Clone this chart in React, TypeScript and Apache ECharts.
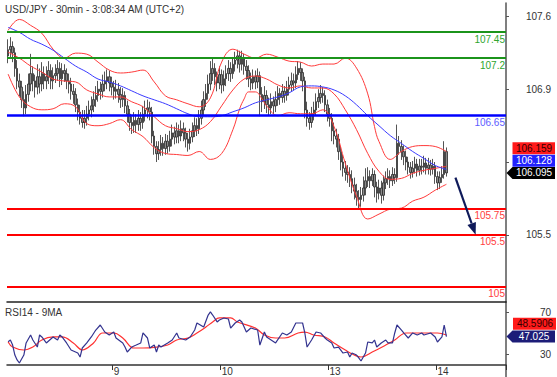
import React, { useEffect, useRef } from "react";
import * as echarts from "echarts";

const FONT = "'Liberation Sans', Arial, sans-serif";
const TITLE = "USD/JPY - 30min - 3:08:34 AM (UTC+2)";
const RSI_TITLE = "RSI14 - 9MA";
const SLOT_COUNT = 222;
const dayTickIdx = [47, 95, 143, 191];
const dayTickLabels = ["9", "10", "13", "14"];
const priceTickValues = [105.5, 106.2, 106.9, 107.6];
const priceLabelValues = [105.5, 106.9, 107.6];
const rsiTickValues = [30, 70];

const levelValues = [107.45, 107.2, 106.65, 105.75, 105.5, 105];
const levelLabels = ["107.45", "107.2", "106.65", "105.75", "105.5", "105"];
const levelColors = ["#1b941b", "#1b941b", "#0000ff", "#ff0000", "#ff0000", "#ff0000"];
const levelLabelColors = ["#2ea52e", "#2ea52e", "#5c5cff", "#ff4040", "#ff4040", "#ff4040"];

// [open, close, low, high]
const ohlc: number[][] = [
  [107.22, 107.28, 107.15, 107.38], [107.28, 107.31, 107.20, 107.40], [107.31, 107.25, 107.16, 107.36],
  [107.25, 107.10, 107.02, 107.30], [107.10, 106.98, 106.90, 107.18], [106.98, 106.92, 106.83, 107.05],
  [106.92, 106.80, 106.72, 106.98], [106.80, 106.72, 106.64, 106.88], [106.72, 106.85, 106.66, 106.94],
  [106.85, 106.95, 106.78, 107.05], [106.95, 107.05, 106.88, 107.24], [107.05, 106.98, 106.88, 107.12],
  [106.98, 106.92, 106.82, 107.04], [106.92, 107.02, 106.85, 107.14], [107.02, 106.95, 106.86, 107.10],
  [106.95, 107.05, 106.88, 107.16], [107.05, 106.98, 106.90, 107.12], [106.98, 107.02, 106.90, 107.12],
  [107.02, 107.08, 106.95, 107.17], [107.08, 106.98, 106.90, 107.14], [106.98, 107.03, 106.90, 107.11],
  [107.03, 107.05, 106.96, 107.14], [107.05, 107.10, 106.98, 107.18], [107.10, 107.00, 106.92, 107.16],
  [107.00, 107.08, 106.94, 107.15], [107.08, 107.05, 106.97, 107.14], [107.05, 106.98, 106.90, 107.10],
  [106.98, 106.95, 106.86, 107.05], [106.95, 106.88, 106.80, 107.01], [106.88, 106.85, 106.76, 106.95],
  [106.85, 106.75, 106.68, 106.91], [106.75, 106.68, 106.60, 106.81], [106.68, 106.62, 106.56, 106.75],
  [106.62, 106.58, 106.53, 106.70], [106.58, 106.62, 106.52, 106.70], [106.62, 106.66, 106.55, 106.74],
  [106.66, 106.70, 106.60, 106.79], [106.70, 106.74, 106.63, 106.83], [106.74, 106.80, 106.68, 106.88],
  [106.80, 106.84, 106.73, 106.93], [106.84, 106.90, 106.78, 106.98], [106.90, 106.88, 106.80, 106.97],
  [106.88, 106.95, 106.82, 107.04], [106.95, 106.98, 106.88, 107.07], [106.98, 107.02, 106.90, 107.09],
  [107.02, 106.96, 106.88, 107.08], [106.96, 106.92, 106.84, 107.02], [106.92, 106.88, 106.80, 106.98],
  [106.88, 106.90, 106.81, 106.99], [106.90, 106.85, 106.77, 106.96], [106.85, 106.80, 106.72, 106.92],
  [106.80, 106.84, 106.73, 106.91], [106.84, 106.74, 106.67, 106.88], [106.74, 106.66, 106.58, 106.79],
  [106.66, 106.58, 106.50, 106.71], [106.58, 106.55, 106.47, 106.64], [106.55, 106.60, 106.48, 106.68],
  [106.60, 106.56, 106.48, 106.66], [106.56, 106.62, 106.50, 106.70], [106.62, 106.58, 106.50, 106.68],
  [106.58, 106.66, 106.52, 106.74], [106.66, 106.70, 106.59, 106.79], [106.70, 106.72, 106.62, 106.80],
  [106.72, 106.68, 106.60, 106.78], [106.68, 106.45, 106.38, 106.73], [106.45, 106.35, 106.27, 106.50],
  [106.35, 106.28, 106.20, 106.40], [106.28, 106.32, 106.22, 106.40], [106.32, 106.38, 106.26, 106.46],
  [106.38, 106.33, 106.26, 106.44], [106.33, 106.40, 106.27, 106.47], [106.40, 106.35, 106.28, 106.46],
  [106.35, 106.42, 106.30, 106.50], [106.42, 106.48, 106.35, 106.56], [106.48, 106.44, 106.37, 106.54],
  [106.44, 106.50, 106.38, 106.58], [106.50, 106.45, 106.38, 106.56], [106.45, 106.52, 106.40, 106.60],
  [106.52, 106.48, 106.40, 106.58], [106.48, 106.42, 106.34, 106.53], [106.42, 106.38, 106.30, 106.48],
  [106.38, 106.44, 106.32, 106.52], [106.44, 106.50, 106.39, 106.58], [106.50, 106.55, 106.44, 106.63],
  [106.55, 106.52, 106.45, 106.62], [106.52, 106.62, 106.47, 106.70], [106.62, 106.70, 106.56, 106.79],
  [106.70, 106.80, 106.64, 106.88], [106.80, 106.86, 106.73, 106.95], [106.86, 106.95, 106.80, 107.04],
  [106.95, 107.05, 106.89, 107.17], [107.05, 107.10, 106.98, 107.20], [107.10, 107.02, 106.94, 107.15],
  [107.02, 106.96, 106.88, 107.07], [106.96, 107.04, 106.90, 107.12], [107.04, 106.94, 106.86, 107.09],
  [106.94, 107.00, 106.88, 107.08], [107.00, 107.05, 106.93, 107.13], [107.05, 107.10, 106.98, 107.18],
  [107.10, 107.05, 106.97, 107.16], [107.05, 107.14, 107.00, 107.21], [107.14, 107.18, 107.07, 107.26],
  [107.18, 107.22, 107.10, 107.28], [107.22, 107.14, 107.06, 107.27], [107.14, 107.20, 107.08, 107.27],
  [107.20, 107.12, 107.04, 107.24], [107.12, 107.08, 106.99, 107.18], [107.08, 107.00, 106.92, 107.13],
  [107.00, 106.96, 106.89, 107.06], [106.96, 107.02, 106.90, 107.09], [107.02, 106.97, 106.90, 107.08],
  [106.97, 107.03, 106.91, 107.10], [107.03, 106.85, 106.64, 107.07], [106.85, 106.78, 106.68, 106.92],
  [106.78, 106.84, 106.71, 106.93], [106.84, 106.75, 106.67, 106.89], [106.75, 106.72, 106.65, 106.82],
  [106.72, 106.78, 106.66, 106.86], [106.78, 106.74, 106.66, 106.83], [106.74, 106.80, 106.68, 106.88],
  [106.80, 106.86, 106.74, 106.93], [106.86, 106.82, 106.75, 106.91], [106.82, 106.88, 106.77, 106.95],
  [106.88, 106.84, 106.77, 106.93], [106.84, 106.90, 106.79, 106.98], [106.90, 106.94, 106.84, 107.02],
  [106.94, 106.98, 106.88, 107.06], [106.98, 106.96, 106.89, 107.05], [106.96, 107.04, 106.91, 107.12],
  [107.04, 107.10, 106.99, 107.17], [107.10, 107.06, 106.98, 107.16], [107.06, 106.98, 106.88, 107.10],
  [106.98, 106.70, 106.62, 107.02], [106.70, 106.62, 106.54, 106.78], [106.62, 106.58, 106.51, 106.68],
  [106.58, 106.66, 106.53, 106.73], [106.66, 106.70, 106.60, 106.78], [106.70, 106.78, 106.65, 106.86],
  [106.78, 106.82, 106.72, 106.90], [106.82, 106.86, 106.76, 106.94], [106.86, 106.84, 106.77, 106.92],
  [106.84, 106.75, 106.68, 106.89], [106.75, 106.66, 106.59, 106.80], [106.66, 106.62, 106.54, 106.72],
  [106.62, 106.50, 106.40, 106.67], [106.50, 106.45, 106.37, 106.58], [106.45, 106.42, 106.34, 106.52],
  [106.42, 106.30, 106.22, 106.47], [106.30, 106.20, 106.12, 106.35], [106.20, 106.14, 106.06, 106.27],
  [106.14, 106.10, 106.02, 106.21], [106.10, 106.08, 106.00, 106.17], [106.08, 106.04, 105.96, 106.15],
  [106.04, 105.98, 105.90, 106.12], [105.98, 105.92, 105.84, 106.05], [105.92, 105.86, 105.78, 105.99],
  [105.86, 105.84, 105.75, 105.93], [105.84, 105.88, 105.77, 105.96], [105.88, 105.95, 105.82, 106.06],
  [105.95, 106.02, 105.88, 106.14], [106.02, 106.06, 105.96, 106.15], [106.06, 106.02, 105.95, 106.12],
  [106.02, 106.08, 105.97, 106.14], [106.08, 105.96, 105.86, 106.12], [105.96, 105.90, 105.81, 106.01],
  [105.90, 105.95, 105.84, 106.03], [105.95, 105.88, 105.80, 106.02], [105.88, 106.00, 105.83, 106.07],
  [106.00, 106.04, 105.94, 106.11], [106.04, 106.06, 105.98, 106.14], [106.06, 106.02, 105.95, 106.12],
  [106.02, 106.08, 105.97, 106.15], [106.08, 106.05, 105.99, 106.14], [106.05, 106.38, 106.01, 106.56],
  [106.38, 106.35, 106.27, 106.45], [106.35, 106.30, 106.22, 106.41], [106.30, 106.25, 106.17, 106.36],
  [106.25, 106.20, 106.12, 106.31], [106.20, 106.15, 106.08, 106.25], [106.15, 106.10, 106.04, 106.20],
  [106.10, 106.14, 106.05, 106.21], [106.14, 106.18, 106.09, 106.25], [106.18, 106.12, 106.06, 106.23],
  [106.12, 106.16, 106.07, 106.23], [106.16, 106.15, 106.08, 106.23], [106.15, 106.19, 106.10, 106.26],
  [106.19, 106.14, 106.08, 106.24], [106.14, 106.17, 106.08, 106.24], [106.17, 106.13, 106.07, 106.22],
  [106.13, 106.16, 106.08, 106.23], [106.16, 106.06, 105.99, 106.20], [106.06, 106.00, 105.93, 106.11],
  [106.00, 106.05, 105.94, 106.11], [106.05, 106.08, 106.00, 106.16], [106.08, 106.30, 106.04, 106.40],
  [106.30, 106.095, 106.06, 106.34],
];

const step5Idx = [0, 5, 10, 15, 20, 25, 30, 35, 40, 45, 50, 55, 60, 65, 70, 75, 80, 85, 90, 95,
  100, 105, 110, 115, 120, 125, 130, 135, 140, 145, 150, 155, 160, 165, 170, 175, 180, 185, 190, 195];

const upperIdx = [0, 5, 10, 15, 20, 25, 30, 35, 40, 45, 50, 55, 60, 65, 70, 75, 80, 85, 90, 95,
  100, 105, 110, 115, 120, 125, 130, 135, 140, 145, 150, 155, 160, 163, 165, 170, 175, 180, 185, 190, 195];
const upperVal = [107.466, 107.571, 107.514, 107.438, 107.285, 107.199, 107.247, 107.237, 107.161, 107.084,
  107.056, 107.065, 107.084, 106.970, 106.836, 106.798, 106.760, 106.731, 106.817, 107.161,
  107.285, 107.237, 107.199, 107.237, 107.208, 107.170, 107.161, 107.123, 107.142, 107.142,
  107.199, 107.103, 106.855, 106.540, 106.397, 106.225, 106.301, 106.349, 106.358, 106.349, 106.301];

const midVal = [107.256, 107.199, 107.123, 107.065, 106.998, 106.979, 106.970, 106.893, 106.855, 106.826,
  106.826, 106.779, 106.731, 106.635, 106.549, 106.521, 106.492, 106.511, 106.588, 106.740,
  106.893, 106.998, 107.027, 106.998, 106.941, 106.912, 106.932, 106.912, 106.912, 106.855,
  106.702, 106.511, 106.282, 106.110, 106.034, 106.043, 106.091, 106.120, 106.139, 106.159];

const lowerIdx = [0, 5, 10, 15, 20, 25, 30, 35, 40, 45, 50, 55, 60, 65, 70, 75, 80, 85, 90, 95,
  100, 103, 105, 107, 110, 113, 115, 120, 125, 130, 135, 140, 145, 150, 155, 160, 165, 170, 175, 180, 185, 190, 195];
const lowerVal = [107.046, 106.826, 106.731, 106.702, 106.712, 106.760, 106.731, 106.569, 106.549, 106.569,
  106.607, 106.511, 106.444, 106.339, 106.282, 106.272, 106.263, 106.301, 106.225, 106.282,
  106.511, 106.712, 106.807, 106.874, 106.874, 106.807, 106.740, 106.645, 106.674, 106.664,
  106.664, 106.702, 106.540, 106.187, 105.871, 105.652, 105.699, 105.747, 105.757, 105.824,
  105.862, 105.929, 105.986];

const maVal = [107.495, 107.447, 107.380, 107.333, 107.275, 107.199, 107.123, 107.065, 106.998, 106.970,
  106.932, 106.884, 106.836, 106.798, 106.760, 106.712, 106.664, 106.635, 106.635, 106.645,
  106.683, 106.721, 106.769, 106.798, 106.826, 106.865, 106.922, 106.932, 106.922, 106.893,
  106.836, 106.750, 106.645, 106.549, 106.454, 106.378, 106.301, 106.234, 106.167, 106.128];

const rsiIdx = [0, 1, 2, 3, 4, 5, 7, 8, 10, 11, 13, 14, 15, 17, 20, 22, 23, 24, 26, 28,
  31, 32, 33, 35, 37, 39, 41, 43, 45, 47, 48, 51, 52, 53, 55, 57, 59, 60, 62, 63,
  65, 66, 67, 68, 71, 73, 75, 76, 79, 81, 83, 84, 87, 89, 90, 91, 93, 94, 96, 98,
  99, 101, 103, 104, 106, 108, 111, 112, 114, 115, 119, 122, 124, 126, 128, 131, 132, 133, 135, 137,
  139, 141, 142, 144, 145, 147, 149, 151, 152, 153, 155, 156, 157, 159, 160, 162, 163, 164, 166, 168,
  169, 171, 172, 173, 175, 176, 178, 180, 182, 184, 185, 188, 190, 191, 193, 194, 195];
const rsiVal = [42.2, 43.8, 39, 29.5, 24.8, 21.9, 29.5, 41, 48.6, 43.8,
  37.1, 48.6, 46.7, 41, 46.7, 43.8, 48.6, 46.7, 41, 34.3,
  31.4, 27.6, 36.2, 41, 46.7, 53.3, 58.1, 51.4, 48.6, 51.4,
  45.7, 41, 37.1, 32.4, 37.1, 39, 41, 50.5, 45.7, 36.2,
  39, 32.4, 39, 37.1, 41, 43.8, 50.5, 45.7, 43.8, 46.7,
  53.3, 60, 56.2, 67.6, 70.5, 67.6, 61, 62.9, 64.8, 63.8,
  55.2, 60, 62.9, 61, 51.4, 55.2, 53.3, 39, 51.4, 46.7,
  41, 50.5, 48.6, 51.4, 60, 60, 50.5, 37.1, 43.8, 51.4,
  50.5, 45.7, 43.8, 41, 36.2, 37.1, 31.4, 32.4, 27.6, 31.4,
  29.5, 26.7, 23.8, 31.4, 41.9, 41, 43.8, 37.1, 41, 43.8,
  41, 41, 50.5, 58.1, 53.3, 50.5, 45.7, 50.5, 48.6, 50.5,
  48.6, 50.5, 46.7, 41.9, 46.7, 58.1, 47.025];

const rsiMaIdx = [0, 2, 7, 11, 15, 20, 24, 29, 33, 38, 42, 47, 51, 56, 60, 66, 71, 75, 80, 84,
  88, 91, 94, 99, 102, 110, 114, 119, 123, 129, 132, 136, 141, 145, 150, 154, 157, 162, 168, 172,
  177, 181, 185, 191, 195];
const rsiMaVal = [41.9, 37.1, 34.3, 37.1, 43.8, 46.7, 46.7, 41, 34.3, 41,
  50.5, 50.5, 45.7, 36.2, 36.2, 37.1, 39, 43.8, 45.7, 50.5,
  56.2, 61, 64.8, 64.8, 61, 55.2, 48.6, 45.7, 45.7, 50.5,
  51.4, 48.6, 46.7, 41, 34.3, 29.5, 27.6, 32.4, 39, 43.8,
  50.5, 50.5, 50.5, 50.5, 48.5906];

const arrowFrom = [199, 106.05];
const arrowTo = [208, 105.5];

const pairs = (idx: number[], vals: number[]) => idx.map((i, k) => [i, vals[k]]);

export default function App() {
  const ref = useRef<HTMLDivElement>(null);

  useEffect(() => {
    if (!ref.current) return;
    const chart = echarts.init(ref.current, null, { renderer: "svg" });
    const cats = Array.from({ length: SLOT_COUNT }, (_, i) => String(i));
    const isDay = (i: number) => dayTickIdx.indexOf(i) >= 0;

    const option: any = {
      animation: false,
      backgroundColor: "#ffffff",
      textStyle: { fontFamily: FONT },
      grid: [
        { left: 7, top: 3, width: 499, height: 299 },
        { left: 7, top: 302, width: 499, height: 63 },
      ],
      xAxis: [
        {
          type: "category", gridIndex: 0, data: cats, boundaryGap: true,
          axisLine: { show: true, lineStyle: { color: "#222", width: 1.5 } },
          axisTick: { show: false }, axisLabel: { show: false }, splitLine: { show: false },
        },
        {
          type: "category", gridIndex: 1, data: cats, boundaryGap: true,
          axisLine: { show: true, lineStyle: { color: "#333", width: 1.5 } },
          axisTick: { show: true, interval: (i: number) => isDay(i), length: 5, lineStyle: { color: "#333" } },
          axisLabel: {
            interval: (i: number) => isDay(i),
            formatter: (_v: string, i: number) => dayTickLabels[dayTickIdx.indexOf(i)] ?? "",
            align: "left", margin: 1, fontSize: 10, color: "#333", fontFamily: FONT,
          },
          splitLine: { show: false },
        },
      ],
      yAxis: [
        {
          type: "value", gridIndex: 0, position: "right", min: 104.854, max: 107.729, scale: true,
          axisLine: { show: true, lineStyle: { color: "#555", width: 1.5 } },
          axisTick: { show: true, customValues: priceTickValues, length: 3, lineStyle: { color: "#555" } },
          axisLabel: {
            customValues: priceLabelValues, align: "right", margin: 45, fontSize: 10, color: "#333", fontFamily: FONT,
            formatter: (v: number) => String(v),
          },
          splitLine: { show: false },
        },
        {
          type: "value", gridIndex: 1, position: "right", min: 20, max: 80,
          axisLine: { show: true, lineStyle: { color: "#555", width: 1.5 } },
          axisTick: { show: true, customValues: rsiTickValues, length: 3, lineStyle: { color: "#555" } },
          axisLabel: {
            customValues: rsiTickValues, align: "right", margin: 45, fontSize: 10, color: "#333", fontFamily: FONT,
          },
          splitLine: { show: false },
        },
      ],
      series: [
        {
          type: "candlestick", xAxisIndex: 0, yAxisIndex: 0, data: ohlc, barWidth: 2,
          itemStyle: { color: "#8c8c8c", color0: "#8c8c8c", borderColor: "#2a2a2a", borderColor0: "#2a2a2a", borderWidth: 0.8 },
          silent: true,
          markLine: {
            silent: true, symbol: ["none", "none"],
            data: levelValues.map((v, k) => ({
              yAxis: v,
              lineStyle: { color: levelColors[k], width: k === 2 ? 2.5 : 2, type: "solid" },
              label: {
                show: true, position: "insideEndBottom", formatter: levelLabels[k], color: levelLabelColors[k],
                fontSize: 10, fontFamily: FONT, distance: [1, 2],
              },
            })),
          },
        },
        { type: "line", xAxisIndex: 0, yAxisIndex: 0, data: pairs(upperIdx, upperVal), smooth: 0.4, showSymbol: false, lineStyle: { color: "#ff3a3a", width: 1 }, silent: true },
        { type: "line", xAxisIndex: 0, yAxisIndex: 0, data: pairs(step5Idx, midVal), smooth: 0.4, showSymbol: false, lineStyle: { color: "#ff3a3a", width: 1 }, silent: true },
        { type: "line", xAxisIndex: 0, yAxisIndex: 0, data: pairs(lowerIdx, lowerVal), smooth: 0.4, showSymbol: false, lineStyle: { color: "#ff3a3a", width: 1 }, silent: true },
        { type: "line", xAxisIndex: 0, yAxisIndex: 0, data: pairs(step5Idx, maVal), smooth: 0.4, showSymbol: false, lineStyle: { color: "#3a3aff", width: 1 }, silent: true },
        { type: "line", xAxisIndex: 1, yAxisIndex: 1, data: pairs(rsiMaIdx, rsiMaVal), smooth: 0.4, showSymbol: false, lineStyle: { color: "#ff3030", width: 1.2 }, silent: true },
        { type: "line", xAxisIndex: 1, yAxisIndex: 1, data: pairs(rsiIdx, rsiVal), showSymbol: false, lineStyle: { color: "#33338f", width: 1.2 }, silent: true },
      ],
    };
    chart.setOption(option);

    const yPx = (v: number) => chart.convertToPixel({ yAxisIndex: 0 } as any, v) as unknown as number;
    const rPx = (v: number) => chart.convertToPixel({ yAxisIndex: 1 } as any, v) as unknown as number;
    const ptPx = (p: number[]) => chart.convertToPixel({ xAxisIndex: 0, yAxisIndex: 0 } as any, p) as unknown as number[];

    const lastClose = ohlc[ohlc.length - 1][1];
    const cy = yPx(lastClose);
    const rcy = rPx(rsiVal[rsiVal.length - 1]);
    const txt = (text: string, x: number, y: number, fill: string, align = "center") => ({
      type: "text", x, y, silent: true, z: 20,
      style: { text, fill, fontSize: 10, fontFamily: FONT, align, verticalAlign: "middle" },
    });
    const arrowTag = (y: number, bg: string) => ({
      type: "polygon", silent: true, z: 19,
      shape: { points: [[506.5, y], [512.5, y - 6], [555, y - 6], [555, y + 6], [512.5, y + 6]] },
      style: { fill: bg },
    });
    const rectTag = (y: number, bg: string) => ({
      type: "rect", silent: true, z: 19,
      shape: { x: 512.5, y: y - 6, width: 42.5, height: 12 },
      style: { fill: bg },
    });

    const a0 = ptPx(arrowFrom);
    const a1 = ptPx(arrowTo);
    const dx = a1[0] - a0[0], dy = a1[1] - a0[1];
    const len = Math.sqrt(dx * dx + dy * dy);
    const ux = dx / len, uy = dy / len;
    const headL = 12, headW = 4.5;
    const bx = a1[0] - ux * headL, by = a1[1] - uy * headL;

    const graphic: any[] = [
      txt(TITLE, 5, 9, "#333", "left"),
      txt(RSI_TITLE, 5, 312, "#333", "left"),
      { type: "line", silent: true, shape: { x1: 506, y1: 365, x2: 506, y2: 377 }, style: { stroke: "#555", lineWidth: 1.5 } },
      rectTag(cy - 24.6, "#ff1a1a"),
      txt(midVal[midVal.length - 1].toFixed(3), 534, cy - 24.6, "#300"),
      rectTag(cy - 12.3, "#2222ff"),
      txt(maVal[maVal.length - 1].toFixed(3), 534, cy - 12.3, "#fff"),
      arrowTag(cy, "#000"),
      txt(lastClose.toFixed(3), 534, cy, "#fff"),
      { type: "rect", silent: true, z: 19, shape: { x: 513, y: rcy - 18.9, width: 43, height: 12 }, style: { fill: "#ff1a1a" } },
      txt(String(rsiMaVal[rsiMaVal.length - 1]), 535, rcy - 12.9, "#300"),
      arrowTag(rcy, "#1c1c78"),
      txt(String(rsiVal[rsiVal.length - 1]), 534, rcy, "#fff"),
      { type: "line", silent: true, z: 18, shape: { x1: a0[0], y1: a0[1], x2: bx, y2: by }, style: { stroke: "#0f1a5a", lineWidth: 2.2 } },
      {
        type: "polygon", silent: true, z: 18,
        shape: { points: [[a1[0], a1[1]], [bx - uy * headW, by + ux * headW], [bx + uy * headW, by - ux * headW]] },
        style: { fill: "#0f1a5a" },
      },
    ];
    chart.setOption({ graphic });

    return () => chart.dispose();
  }, []);

  return <div ref={ref} style={{ position: "fixed", left: 0, top: 0, width: 557, height: 377, background: "#fff" }} />;
}
